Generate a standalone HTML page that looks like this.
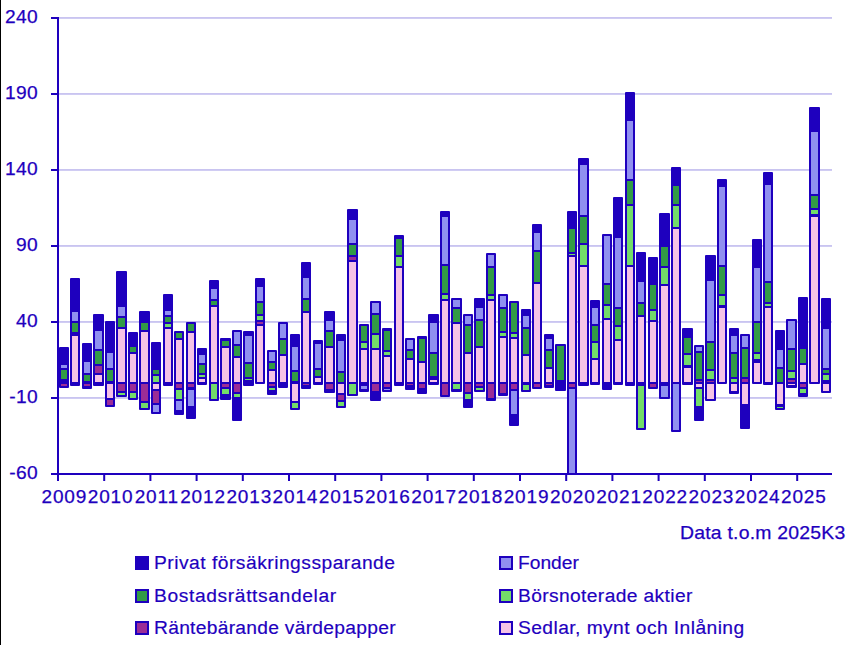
<!DOCTYPE html>
<html><head><meta charset="utf-8"><title>Chart</title>
<style>
html,body{margin:0;padding:0;background:#fff;}
body{width:860px;height:645px;position:relative;overflow:hidden;font-family:"Liberation Sans",sans-serif;color:#1e00be;}
.edge{position:absolute;left:0;top:0;width:1px;height:645px;background:#000;}
.yl{position:absolute;left:0;width:38px;text-align:right;font-size:19.2px;letter-spacing:0.35px;-webkit-text-stroke:0.25px #1e00be;line-height:22px;height:22px;white-space:nowrap;}
.xl{position:absolute;top:486px;width:60px;text-align:center;font-size:19px;letter-spacing:0.85px;-webkit-text-stroke:0.25px #1e00be;line-height:22px;white-space:nowrap;}
.sw{position:absolute;width:10.4px;height:10.4px;border:2px solid #1e00be;}
.lt{position:absolute;font-size:18px;line-height:22px;white-space:nowrap;transform:scaleX(1.067);transform-origin:0 0;-webkit-text-stroke:0.18px #1e00be;}
.note{position:absolute;left:679.5px;top:522px;font-size:18.5px;letter-spacing:0.2px;transform:scaleX(1.05);transform-origin:0 0;-webkit-text-stroke:0.25px #1e00be;line-height:22px;white-space:nowrap;}
</style></head><body>
<svg width="860" height="645" viewBox="0 0 860 645" style="position:absolute;left:0;top:0">
<rect x="59" y="17" width="773" height="1" fill="#c9c4f0"/><rect x="59" y="18" width="773" height="1" fill="#d0ccf3"/>
<rect x="59" y="93" width="773" height="1" fill="#c9c4f0"/><rect x="59" y="94" width="773" height="1" fill="#d0ccf3"/>
<rect x="59" y="169" width="773" height="1" fill="#c9c4f0"/><rect x="59" y="170" width="773" height="1" fill="#d0ccf3"/>
<rect x="59" y="245" width="773" height="1" fill="#c9c4f0"/><rect x="59" y="246" width="773" height="1" fill="#d0ccf3"/>
<rect x="59" y="321" width="773" height="1" fill="#c9c4f0"/><rect x="59" y="322" width="773" height="1" fill="#d0ccf3"/>
<rect x="59" y="397" width="773" height="1" fill="#c9c4f0"/><rect x="59" y="398" width="773" height="1" fill="#d0ccf3"/>
<rect x="59" y="347" width="10" height="41" rx="1" fill="#1e00be"/>
<rect x="61" y="365" width="6" height="3" fill="#9090f0"/>
<rect x="61" y="370" width="6" height="9" fill="#329b46"/>
<rect x="61" y="384" width="6" height="2" fill="#9b2d96"/>
<rect x="70" y="278" width="10" height="108" rx="1" fill="#1e00be"/>
<rect x="72" y="312" width="6" height="9" fill="#9090f0"/>
<rect x="72" y="323" width="6" height="9" fill="#329b46"/>
<rect x="72" y="336" width="6" height="46" fill="#f5c3e6"/>
<rect x="82" y="343" width="10" height="46" rx="1" fill="#1e00be"/>
<rect x="84" y="362" width="6" height="11" fill="#9090f0"/>
<rect x="84" y="375" width="6" height="6" fill="#329b46"/>
<rect x="84" y="384" width="6" height="2" fill="#9b2d96"/>
<rect x="93" y="314" width="11" height="72" rx="1" fill="#1e00be"/>
<rect x="95" y="331" width="7" height="18" fill="#9090f0"/>
<rect x="95" y="351" width="7" height="13" fill="#329b46"/>
<rect x="95" y="366" width="7" height="7" fill="#9b2d96"/>
<rect x="95" y="375" width="7" height="7" fill="#f5c3e6"/>
<rect x="105" y="321" width="10" height="86" rx="1" fill="#1e00be"/>
<rect x="107" y="353" width="6" height="15" fill="#9090f0"/>
<rect x="107" y="370" width="6" height="11" fill="#329b46"/>
<rect x="107" y="384" width="6" height="14" fill="#f5c3e6"/>
<rect x="107" y="400" width="6" height="5" fill="#9b2d96"/>
<rect x="116" y="271" width="11" height="126" rx="1" fill="#1e00be"/>
<rect x="118" y="307" width="7" height="9" fill="#9090f0"/>
<rect x="118" y="318" width="7" height="9" fill="#329b46"/>
<rect x="118" y="329" width="7" height="53" fill="#f5c3e6"/>
<rect x="118" y="384" width="7" height="7" fill="#9b2d96"/>
<rect x="118" y="393" width="7" height="2" fill="#73dc69"/>
<rect x="128" y="332" width="10" height="68" rx="1" fill="#1e00be"/>
<rect x="130" y="347" width="6" height="5" fill="#329b46"/>
<rect x="130" y="354" width="6" height="28" fill="#f5c3e6"/>
<rect x="130" y="384" width="6" height="7" fill="#9b2d96"/>
<rect x="130" y="393" width="6" height="5" fill="#73dc69"/>
<rect x="139" y="311" width="11" height="99" rx="1" fill="#1e00be"/>
<rect x="141" y="323" width="7" height="7" fill="#329b46"/>
<rect x="141" y="332" width="7" height="50" fill="#f5c3e6"/>
<rect x="141" y="384" width="7" height="17" fill="#9b2d96"/>
<rect x="141" y="403" width="7" height="5" fill="#73dc69"/>
<rect x="151" y="342" width="10" height="72" rx="1" fill="#1e00be"/>
<rect x="153" y="370" width="6" height="4" fill="#329b46"/>
<rect x="153" y="376" width="6" height="6" fill="#73dc69"/>
<rect x="153" y="384" width="6" height="5" fill="#f5c3e6"/>
<rect x="153" y="391" width="6" height="12" fill="#9b2d96"/>
<rect x="153" y="405" width="6" height="7" fill="#9090f0"/>
<rect x="163" y="294" width="10" height="92" rx="1" fill="#1e00be"/>
<rect x="165" y="311" width="6" height="4" fill="#9090f0"/>
<rect x="165" y="317" width="6" height="5" fill="#329b46"/>
<rect x="165" y="324" width="6" height="3" fill="#73dc69"/>
<rect x="165" y="329" width="6" height="53" fill="#f5c3e6"/>
<rect x="174" y="331" width="10" height="84" rx="1" fill="#1e00be"/>
<rect x="176" y="333" width="6" height="5" fill="#329b46"/>
<rect x="176" y="340" width="6" height="42" fill="#f5c3e6"/>
<rect x="176" y="384" width="6" height="4" fill="#9b2d96"/>
<rect x="176" y="390" width="6" height="9" fill="#73dc69"/>
<rect x="176" y="401" width="6" height="9" fill="#9090f0"/>
<rect x="186" y="322" width="10" height="97" rx="1" fill="#1e00be"/>
<rect x="188" y="324" width="6" height="7" fill="#329b46"/>
<rect x="188" y="333" width="6" height="49" fill="#f5c3e6"/>
<rect x="188" y="384" width="6" height="3" fill="#9b2d96"/>
<rect x="188" y="390" width="6" height="16" fill="#9090f0"/>
<rect x="197" y="348" width="10" height="37" rx="1" fill="#1e00be"/>
<rect x="199" y="355" width="6" height="8" fill="#9090f0"/>
<rect x="199" y="365" width="6" height="8" fill="#329b46"/>
<rect x="199" y="375" width="6" height="2" fill="#73dc69"/>
<rect x="199" y="379" width="6" height="3" fill="#f5c3e6"/>
<rect x="209" y="280" width="10" height="121" rx="1" fill="#1e00be"/>
<rect x="211" y="289" width="6" height="10" fill="#9090f0"/>
<rect x="211" y="301" width="6" height="4" fill="#329b46"/>
<rect x="211" y="307" width="6" height="75" fill="#f5c3e6"/>
<rect x="211" y="384" width="6" height="15" fill="#73dc69"/>
<rect x="220" y="338" width="11" height="62" rx="1" fill="#1e00be"/>
<rect x="222" y="341" width="7" height="5" fill="#329b46"/>
<rect x="222" y="348" width="7" height="34" fill="#f5c3e6"/>
<rect x="222" y="384" width="7" height="3" fill="#9b2d96"/>
<rect x="222" y="389" width="7" height="5" fill="#73dc69"/>
<rect x="232" y="330" width="10" height="91" rx="1" fill="#1e00be"/>
<rect x="234" y="332" width="6" height="12" fill="#9090f0"/>
<rect x="234" y="346" width="6" height="10" fill="#329b46"/>
<rect x="234" y="358" width="6" height="24" fill="#f5c3e6"/>
<rect x="234" y="384" width="6" height="8" fill="#9b2d96"/>
<rect x="234" y="394" width="6" height="3" fill="#73dc69"/>
<rect x="243" y="331" width="11" height="55" rx="1" fill="#1e00be"/>
<rect x="245" y="336" width="7" height="26" fill="#9090f0"/>
<rect x="245" y="364" width="7" height="13" fill="#329b46"/>
<rect x="245" y="379" width="7" height="1" fill="#73dc69"/>
<rect x="255" y="278" width="10" height="106" rx="1" fill="#1e00be"/>
<rect x="257" y="287" width="6" height="14" fill="#9090f0"/>
<rect x="257" y="303" width="6" height="11" fill="#329b46"/>
<rect x="257" y="316" width="6" height="4" fill="#73dc69"/>
<rect x="257" y="322" width="6" height="2" fill="#9b2d96"/>
<rect x="257" y="326" width="6" height="56" fill="#f5c3e6"/>
<rect x="267" y="350" width="10" height="45" rx="1" fill="#1e00be"/>
<rect x="269" y="352" width="6" height="9" fill="#9090f0"/>
<rect x="269" y="363" width="6" height="6" fill="#329b46"/>
<rect x="269" y="371" width="6" height="11" fill="#f5c3e6"/>
<rect x="269" y="384" width="6" height="2" fill="#9b2d96"/>
<rect x="269" y="388" width="6" height="2" fill="#73dc69"/>
<rect x="278" y="322" width="10" height="66" rx="1" fill="#1e00be"/>
<rect x="280" y="324" width="6" height="14" fill="#9090f0"/>
<rect x="280" y="340" width="6" height="14" fill="#329b46"/>
<rect x="280" y="356" width="6" height="26" fill="#f5c3e6"/>
<rect x="290" y="334" width="10" height="76" rx="1" fill="#1e00be"/>
<rect x="292" y="347" width="6" height="23" fill="#9090f0"/>
<rect x="292" y="372" width="6" height="9" fill="#329b46"/>
<rect x="292" y="384" width="6" height="17" fill="#f5c3e6"/>
<rect x="292" y="403" width="6" height="5" fill="#73dc69"/>
<rect x="301" y="262" width="10" height="127" rx="1" fill="#1e00be"/>
<rect x="303" y="278" width="6" height="20" fill="#9090f0"/>
<rect x="303" y="300" width="6" height="11" fill="#329b46"/>
<rect x="303" y="313" width="6" height="69" fill="#f5c3e6"/>
<rect x="303" y="384" width="6" height="1" fill="#9b2d96"/>
<rect x="313" y="340" width="10" height="45" rx="1" fill="#1e00be"/>
<rect x="315" y="344" width="6" height="24" fill="#9090f0"/>
<rect x="315" y="370" width="6" height="6" fill="#329b46"/>
<rect x="315" y="378" width="6" height="4" fill="#f5c3e6"/>
<rect x="324" y="311" width="11" height="82" rx="1" fill="#1e00be"/>
<rect x="326" y="321" width="7" height="9" fill="#9090f0"/>
<rect x="326" y="332" width="7" height="14" fill="#329b46"/>
<rect x="326" y="348" width="7" height="34" fill="#f5c3e6"/>
<rect x="326" y="384" width="7" height="5" fill="#9b2d96"/>
<rect x="336" y="334" width="10" height="74" rx="1" fill="#1e00be"/>
<rect x="338" y="341" width="6" height="30" fill="#9090f0"/>
<rect x="338" y="373" width="6" height="9" fill="#329b46"/>
<rect x="338" y="384" width="6" height="9" fill="#f5c3e6"/>
<rect x="338" y="395" width="6" height="5" fill="#9b2d96"/>
<rect x="338" y="402" width="6" height="4" fill="#73dc69"/>
<rect x="347" y="209" width="11" height="187" rx="1" fill="#1e00be"/>
<rect x="349" y="220" width="7" height="23" fill="#9090f0"/>
<rect x="349" y="245" width="7" height="10" fill="#329b46"/>
<rect x="349" y="257" width="7" height="3" fill="#9b2d96"/>
<rect x="349" y="262" width="7" height="120" fill="#f5c3e6"/>
<rect x="349" y="384" width="7" height="10" fill="#73dc69"/>
<rect x="359" y="324" width="10" height="68" rx="1" fill="#1e00be"/>
<rect x="361" y="326" width="6" height="15" fill="#329b46"/>
<rect x="361" y="343" width="6" height="5" fill="#73dc69"/>
<rect x="361" y="350" width="6" height="32" fill="#f5c3e6"/>
<rect x="361" y="386" width="6" height="3" fill="#9090f0"/>
<rect x="370" y="301" width="11" height="100" rx="1" fill="#1e00be"/>
<rect x="372" y="303" width="7" height="10" fill="#9090f0"/>
<rect x="372" y="315" width="7" height="18" fill="#329b46"/>
<rect x="372" y="335" width="7" height="13" fill="#73dc69"/>
<rect x="372" y="350" width="7" height="32" fill="#f5c3e6"/>
<rect x="372" y="384" width="7" height="7" fill="#9b2d96"/>
<rect x="382" y="328" width="10" height="64" rx="1" fill="#1e00be"/>
<rect x="384" y="331" width="6" height="19" fill="#329b46"/>
<rect x="384" y="352" width="6" height="3" fill="#73dc69"/>
<rect x="384" y="357" width="6" height="25" fill="#f5c3e6"/>
<rect x="384" y="384" width="6" height="3" fill="#9b2d96"/>
<rect x="384" y="389" width="6" height="1" fill="#9090f0"/>
<rect x="394" y="235" width="10" height="151" rx="1" fill="#1e00be"/>
<rect x="396" y="239" width="6" height="16" fill="#329b46"/>
<rect x="396" y="257" width="6" height="9" fill="#73dc69"/>
<rect x="396" y="268" width="6" height="114" fill="#f5c3e6"/>
<rect x="405" y="338" width="10" height="52" rx="1" fill="#1e00be"/>
<rect x="407" y="340" width="6" height="9" fill="#9090f0"/>
<rect x="407" y="351" width="6" height="7" fill="#329b46"/>
<rect x="407" y="360" width="6" height="22" fill="#f5c3e6"/>
<rect x="407" y="384" width="6" height="1" fill="#9b2d96"/>
<rect x="417" y="336" width="10" height="58" rx="1" fill="#1e00be"/>
<rect x="419" y="339" width="6" height="22" fill="#329b46"/>
<rect x="419" y="363" width="6" height="19" fill="#f5c3e6"/>
<rect x="419" y="384" width="6" height="4" fill="#9b2d96"/>
<rect x="428" y="314" width="11" height="71" rx="1" fill="#1e00be"/>
<rect x="430" y="323" width="7" height="29" fill="#9090f0"/>
<rect x="430" y="354" width="7" height="22" fill="#329b46"/>
<rect x="430" y="380" width="7" height="2" fill="#f5c3e6"/>
<rect x="440" y="211" width="10" height="186" rx="1" fill="#1e00be"/>
<rect x="442" y="217" width="6" height="47" fill="#9090f0"/>
<rect x="442" y="266" width="6" height="27" fill="#329b46"/>
<rect x="442" y="295" width="6" height="4" fill="#73dc69"/>
<rect x="442" y="301" width="6" height="81" fill="#f5c3e6"/>
<rect x="442" y="384" width="6" height="11" fill="#9b2d96"/>
<rect x="451" y="298" width="11" height="94" rx="1" fill="#1e00be"/>
<rect x="453" y="300" width="7" height="7" fill="#9090f0"/>
<rect x="453" y="309" width="7" height="13" fill="#329b46"/>
<rect x="453" y="324" width="7" height="58" fill="#f5c3e6"/>
<rect x="453" y="384" width="7" height="5" fill="#73dc69"/>
<rect x="463" y="314" width="10" height="94" rx="1" fill="#1e00be"/>
<rect x="465" y="316" width="6" height="8" fill="#9090f0"/>
<rect x="465" y="326" width="6" height="26" fill="#329b46"/>
<rect x="465" y="354" width="6" height="28" fill="#f5c3e6"/>
<rect x="465" y="384" width="6" height="8" fill="#9b2d96"/>
<rect x="465" y="394" width="6" height="5" fill="#73dc69"/>
<rect x="474" y="298" width="11" height="94" rx="1" fill="#1e00be"/>
<rect x="476" y="308" width="7" height="11" fill="#9090f0"/>
<rect x="476" y="321" width="7" height="25" fill="#329b46"/>
<rect x="476" y="348" width="7" height="34" fill="#f5c3e6"/>
<rect x="476" y="384" width="7" height="2" fill="#9b2d96"/>
<rect x="476" y="388" width="7" height="2" fill="#73dc69"/>
<rect x="486" y="253" width="10" height="148" rx="1" fill="#1e00be"/>
<rect x="488" y="255" width="6" height="11" fill="#9090f0"/>
<rect x="488" y="268" width="6" height="26" fill="#329b46"/>
<rect x="488" y="296" width="6" height="3" fill="#73dc69"/>
<rect x="488" y="301" width="6" height="81" fill="#f5c3e6"/>
<rect x="488" y="384" width="6" height="14" fill="#9b2d96"/>
<rect x="498" y="294" width="10" height="102" rx="1" fill="#1e00be"/>
<rect x="500" y="296" width="6" height="11" fill="#9090f0"/>
<rect x="500" y="309" width="6" height="22" fill="#329b46"/>
<rect x="500" y="333" width="6" height="3" fill="#73dc69"/>
<rect x="500" y="338" width="6" height="44" fill="#f5c3e6"/>
<rect x="500" y="384" width="6" height="9" fill="#9b2d96"/>
<rect x="509" y="301" width="10" height="125" rx="1" fill="#1e00be"/>
<rect x="511" y="303" width="6" height="29" fill="#329b46"/>
<rect x="511" y="334" width="6" height="3" fill="#73dc69"/>
<rect x="511" y="339" width="6" height="43" fill="#f5c3e6"/>
<rect x="511" y="384" width="6" height="5" fill="#9b2d96"/>
<rect x="511" y="391" width="6" height="23" fill="#9090f0"/>
<rect x="521" y="309" width="10" height="83" rx="1" fill="#1e00be"/>
<rect x="523" y="316" width="6" height="11" fill="#9090f0"/>
<rect x="523" y="329" width="6" height="25" fill="#329b46"/>
<rect x="523" y="356" width="6" height="26" fill="#f5c3e6"/>
<rect x="523" y="385" width="6" height="5" fill="#73dc69"/>
<rect x="532" y="224" width="10" height="165" rx="1" fill="#1e00be"/>
<rect x="534" y="233" width="6" height="17" fill="#9090f0"/>
<rect x="534" y="252" width="6" height="30" fill="#329b46"/>
<rect x="534" y="284" width="6" height="98" fill="#f5c3e6"/>
<rect x="534" y="384" width="6" height="3" fill="#9b2d96"/>
<rect x="544" y="334" width="10" height="54" rx="1" fill="#1e00be"/>
<rect x="546" y="339" width="6" height="10" fill="#9090f0"/>
<rect x="546" y="351" width="6" height="16" fill="#329b46"/>
<rect x="546" y="369" width="6" height="13" fill="#f5c3e6"/>
<rect x="546" y="384" width="6" height="1" fill="#9b2d96"/>
<rect x="555" y="344" width="11" height="47" rx="1" fill="#1e00be"/>
<rect x="557" y="346" width="7" height="34" fill="#329b46"/>
<rect x="567" y="211" width="10" height="263" rx="1" fill="#1e00be"/>
<rect x="569" y="229" width="6" height="23" fill="#329b46"/>
<rect x="569" y="254" width="6" height="1" fill="#73dc69"/>
<rect x="569" y="257" width="6" height="125" fill="#f5c3e6"/>
<rect x="569" y="384" width="6" height="3" fill="#9b2d96"/>
<rect x="569" y="389" width="6" height="84" fill="#9090f0"/>
<rect x="578" y="158" width="11" height="228" rx="1" fill="#1e00be"/>
<rect x="580" y="165" width="7" height="50" fill="#9090f0"/>
<rect x="580" y="217" width="7" height="26" fill="#329b46"/>
<rect x="580" y="245" width="7" height="20" fill="#73dc69"/>
<rect x="580" y="267" width="7" height="115" fill="#f5c3e6"/>
<rect x="590" y="300" width="10" height="85" rx="1" fill="#1e00be"/>
<rect x="592" y="308" width="6" height="16" fill="#9090f0"/>
<rect x="592" y="326" width="6" height="15" fill="#329b46"/>
<rect x="592" y="343" width="6" height="15" fill="#73dc69"/>
<rect x="592" y="360" width="6" height="22" fill="#f5c3e6"/>
<rect x="602" y="234" width="10" height="156" rx="1" fill="#1e00be"/>
<rect x="604" y="236" width="6" height="47" fill="#9090f0"/>
<rect x="604" y="285" width="6" height="19" fill="#329b46"/>
<rect x="604" y="306" width="6" height="12" fill="#73dc69"/>
<rect x="604" y="320" width="6" height="62" fill="#f5c3e6"/>
<rect x="613" y="197" width="10" height="188" rx="1" fill="#1e00be"/>
<rect x="615" y="238" width="6" height="69" fill="#9090f0"/>
<rect x="615" y="309" width="6" height="16" fill="#329b46"/>
<rect x="615" y="327" width="6" height="12" fill="#73dc69"/>
<rect x="615" y="341" width="6" height="41" fill="#f5c3e6"/>
<rect x="625" y="92" width="10" height="294" rx="1" fill="#1e00be"/>
<rect x="627" y="121" width="6" height="58" fill="#9090f0"/>
<rect x="627" y="181" width="6" height="23" fill="#329b46"/>
<rect x="627" y="206" width="6" height="59" fill="#73dc69"/>
<rect x="627" y="267" width="6" height="115" fill="#f5c3e6"/>
<rect x="636" y="252" width="10" height="178" rx="1" fill="#1e00be"/>
<rect x="638" y="282" width="6" height="20" fill="#9090f0"/>
<rect x="638" y="304" width="6" height="11" fill="#329b46"/>
<rect x="638" y="317" width="6" height="65" fill="#f5c3e6"/>
<rect x="638" y="386" width="6" height="42" fill="#73dc69"/>
<rect x="648" y="257" width="10" height="132" rx="1" fill="#1e00be"/>
<rect x="650" y="285" width="6" height="24" fill="#329b46"/>
<rect x="650" y="311" width="6" height="9" fill="#73dc69"/>
<rect x="650" y="322" width="6" height="60" fill="#f5c3e6"/>
<rect x="650" y="384" width="6" height="3" fill="#9b2d96"/>
<rect x="659" y="213" width="11" height="186" rx="1" fill="#1e00be"/>
<rect x="661" y="247" width="7" height="19" fill="#329b46"/>
<rect x="661" y="268" width="7" height="16" fill="#73dc69"/>
<rect x="661" y="286" width="7" height="96" fill="#f5c3e6"/>
<rect x="661" y="386" width="7" height="11" fill="#9090f0"/>
<rect x="671" y="167" width="10" height="265" rx="1" fill="#1e00be"/>
<rect x="673" y="186" width="6" height="18" fill="#329b46"/>
<rect x="673" y="206" width="6" height="21" fill="#73dc69"/>
<rect x="673" y="229" width="6" height="153" fill="#f5c3e6"/>
<rect x="673" y="384" width="6" height="46" fill="#9090f0"/>
<rect x="682" y="328" width="11" height="57" rx="1" fill="#1e00be"/>
<rect x="684" y="338" width="7" height="15" fill="#329b46"/>
<rect x="684" y="355" width="7" height="10" fill="#73dc69"/>
<rect x="684" y="368" width="7" height="14" fill="#f5c3e6"/>
<rect x="694" y="345" width="10" height="76" rx="1" fill="#1e00be"/>
<rect x="696" y="347" width="6" height="4" fill="#9090f0"/>
<rect x="696" y="353" width="6" height="26" fill="#329b46"/>
<rect x="696" y="381" width="6" height="1" fill="#9b2d96"/>
<rect x="696" y="384" width="6" height="3" fill="#f5c3e6"/>
<rect x="696" y="389" width="6" height="17" fill="#73dc69"/>
<rect x="705" y="255" width="11" height="146" rx="1" fill="#1e00be"/>
<rect x="707" y="281" width="7" height="60" fill="#9090f0"/>
<rect x="707" y="343" width="7" height="26" fill="#329b46"/>
<rect x="707" y="371" width="7" height="8" fill="#73dc69"/>
<rect x="707" y="381" width="7" height="1" fill="#9b2d96"/>
<rect x="707" y="384" width="7" height="15" fill="#f5c3e6"/>
<rect x="717" y="179" width="10" height="205" rx="1" fill="#1e00be"/>
<rect x="719" y="187" width="6" height="78" fill="#9090f0"/>
<rect x="719" y="267" width="6" height="27" fill="#329b46"/>
<rect x="719" y="296" width="6" height="9" fill="#73dc69"/>
<rect x="719" y="308" width="6" height="74" fill="#f5c3e6"/>
<rect x="729" y="328" width="10" height="66" rx="1" fill="#1e00be"/>
<rect x="731" y="336" width="6" height="16" fill="#9090f0"/>
<rect x="731" y="354" width="6" height="23" fill="#329b46"/>
<rect x="731" y="379" width="6" height="3" fill="#73dc69"/>
<rect x="731" y="384" width="6" height="7" fill="#f5c3e6"/>
<rect x="740" y="334" width="10" height="95" rx="1" fill="#1e00be"/>
<rect x="742" y="336" width="6" height="11" fill="#9090f0"/>
<rect x="742" y="349" width="6" height="28" fill="#329b46"/>
<rect x="742" y="379" width="6" height="3" fill="#9b2d96"/>
<rect x="742" y="384" width="6" height="20" fill="#f5c3e6"/>
<rect x="752" y="239" width="10" height="145" rx="1" fill="#1e00be"/>
<rect x="754" y="268" width="6" height="53" fill="#9090f0"/>
<rect x="754" y="323" width="6" height="29" fill="#329b46"/>
<rect x="754" y="354" width="6" height="5" fill="#73dc69"/>
<rect x="754" y="363" width="6" height="19" fill="#f5c3e6"/>
<rect x="763" y="172" width="10" height="213" rx="1" fill="#1e00be"/>
<rect x="765" y="185" width="6" height="96" fill="#9090f0"/>
<rect x="765" y="283" width="6" height="19" fill="#329b46"/>
<rect x="765" y="304" width="6" height="2" fill="#73dc69"/>
<rect x="765" y="308" width="6" height="74" fill="#f5c3e6"/>
<rect x="775" y="330" width="10" height="80" rx="1" fill="#1e00be"/>
<rect x="777" y="350" width="6" height="17" fill="#9090f0"/>
<rect x="777" y="369" width="6" height="13" fill="#329b46"/>
<rect x="777" y="384" width="6" height="20" fill="#f5c3e6"/>
<rect x="777" y="407" width="6" height="1" fill="#73dc69"/>
<rect x="786" y="319" width="11" height="69" rx="1" fill="#1e00be"/>
<rect x="788" y="321" width="7" height="27" fill="#9090f0"/>
<rect x="788" y="350" width="7" height="20" fill="#329b46"/>
<rect x="788" y="372" width="7" height="6" fill="#73dc69"/>
<rect x="788" y="380" width="7" height="2" fill="#9b2d96"/>
<rect x="788" y="384" width="7" height="1" fill="#f5c3e6"/>
<rect x="798" y="297" width="10" height="100" rx="1" fill="#1e00be"/>
<rect x="800" y="349" width="6" height="14" fill="#329b46"/>
<rect x="800" y="365" width="6" height="17" fill="#f5c3e6"/>
<rect x="800" y="384" width="6" height="3" fill="#9b2d96"/>
<rect x="800" y="389" width="6" height="4" fill="#73dc69"/>
<rect x="809" y="107" width="11" height="277" rx="1" fill="#1e00be"/>
<rect x="811" y="132" width="7" height="62" fill="#9090f0"/>
<rect x="811" y="196" width="7" height="12" fill="#329b46"/>
<rect x="811" y="210" width="7" height="4" fill="#73dc69"/>
<rect x="811" y="217" width="7" height="165" fill="#f5c3e6"/>
<rect x="821" y="298" width="10" height="95" rx="1" fill="#1e00be"/>
<rect x="823" y="329" width="6" height="39" fill="#9090f0"/>
<rect x="823" y="370" width="6" height="3" fill="#329b46"/>
<rect x="823" y="375" width="6" height="5" fill="#73dc69"/>
<rect x="823" y="384" width="6" height="7" fill="#f5c3e6"/>
<rect x="57" y="17" width="2" height="458" fill="#1e00be"/>
<rect x="51" y="473" width="781" height="2" fill="#1e00be"/>
<rect x="51" y="17" width="7" height="2" fill="#1e00be"/>
<rect x="51" y="93" width="7" height="2" fill="#1e00be"/>
<rect x="51" y="169" width="7" height="2" fill="#1e00be"/>
<rect x="51" y="245" width="7" height="2" fill="#1e00be"/>
<rect x="51" y="321" width="7" height="2" fill="#1e00be"/>
<rect x="51" y="397" width="7" height="2" fill="#1e00be"/>
<rect x="57.00" y="474" width="2" height="7" fill="#1e00be"/>
<rect x="103.20" y="474" width="2" height="7" fill="#1e00be"/>
<rect x="149.40" y="474" width="2" height="7" fill="#1e00be"/>
<rect x="195.60" y="474" width="2" height="7" fill="#1e00be"/>
<rect x="241.80" y="474" width="2" height="7" fill="#1e00be"/>
<rect x="288.00" y="474" width="2" height="7" fill="#1e00be"/>
<rect x="334.20" y="474" width="2" height="7" fill="#1e00be"/>
<rect x="380.40" y="474" width="2" height="7" fill="#1e00be"/>
<rect x="426.60" y="474" width="2" height="7" fill="#1e00be"/>
<rect x="472.80" y="474" width="2" height="7" fill="#1e00be"/>
<rect x="519.00" y="474" width="2" height="7" fill="#1e00be"/>
<rect x="565.20" y="474" width="2" height="7" fill="#1e00be"/>
<rect x="611.40" y="474" width="2" height="7" fill="#1e00be"/>
<rect x="657.60" y="474" width="2" height="7" fill="#1e00be"/>
<rect x="703.80" y="474" width="2" height="7" fill="#1e00be"/>
<rect x="750.00" y="474" width="2" height="7" fill="#1e00be"/>
<rect x="796.20" y="474" width="2" height="7" fill="#1e00be"/>
</svg>
<div class="edge"></div>
<div class="yl" style="top:5.6px">240</div><div class="yl" style="top:81.6px">190</div><div class="yl" style="top:157.6px">140</div><div class="yl" style="top:233.6px">90</div><div class="yl" style="top:309.6px">40</div><div class="yl" style="top:385.6px">-10</div><div class="yl" style="top:461.6px">-60</div><div class="xl" style="left:34.35px">2009</div><div class="xl" style="left:80.57px">2010</div><div class="xl" style="left:126.79px">2011</div><div class="xl" style="left:173.01px">2012</div><div class="xl" style="left:219.23px">2013</div><div class="xl" style="left:265.45px">2014</div><div class="xl" style="left:311.67px">2015</div><div class="xl" style="left:357.89px">2016</div><div class="xl" style="left:404.11px">2017</div><div class="xl" style="left:450.33px">2018</div><div class="xl" style="left:496.55px">2019</div><div class="xl" style="left:542.77px">2020</div><div class="xl" style="left:588.99px">2021</div><div class="xl" style="left:635.21px">2022</div><div class="xl" style="left:681.43px">2023</div><div class="xl" style="left:727.65px">2024</div><div class="xl" style="left:773.87px">2025</div>
<div class="note">Data t.o.m 2025K3</div>
<div class="sw" style="left:135px;top:556px;background:#1e00be"></div><div class="lt" style="left:153.9px;top:552.4px;letter-spacing:0.47px">Privat försäkringssparande</div><div class="sw" style="left:135px;top:589px;background:#329b46"></div><div class="lt" style="left:153.9px;top:585.4px;letter-spacing:0.59px">Bostadsrättsandelar</div><div class="sw" style="left:135px;top:621px;background:#9b2d96"></div><div class="lt" style="left:153.9px;top:617.4px;letter-spacing:0.27px">Räntebärande värdepapper</div><div class="sw" style="left:499px;top:556px;background:#9090f0"></div><div class="lt" style="left:517.9px;top:552.4px;letter-spacing:0.0px">Fonder</div><div class="sw" style="left:499px;top:589px;background:#73dc69"></div><div class="lt" style="left:517.9px;top:585.4px;letter-spacing:0.35px">Börsnoterade aktier</div><div class="sw" style="left:499px;top:621px;background:#f5c3e6"></div><div class="lt" style="left:517.9px;top:617.4px;letter-spacing:0.41px">Sedlar, mynt och Inlåning</div>
</body></html>
